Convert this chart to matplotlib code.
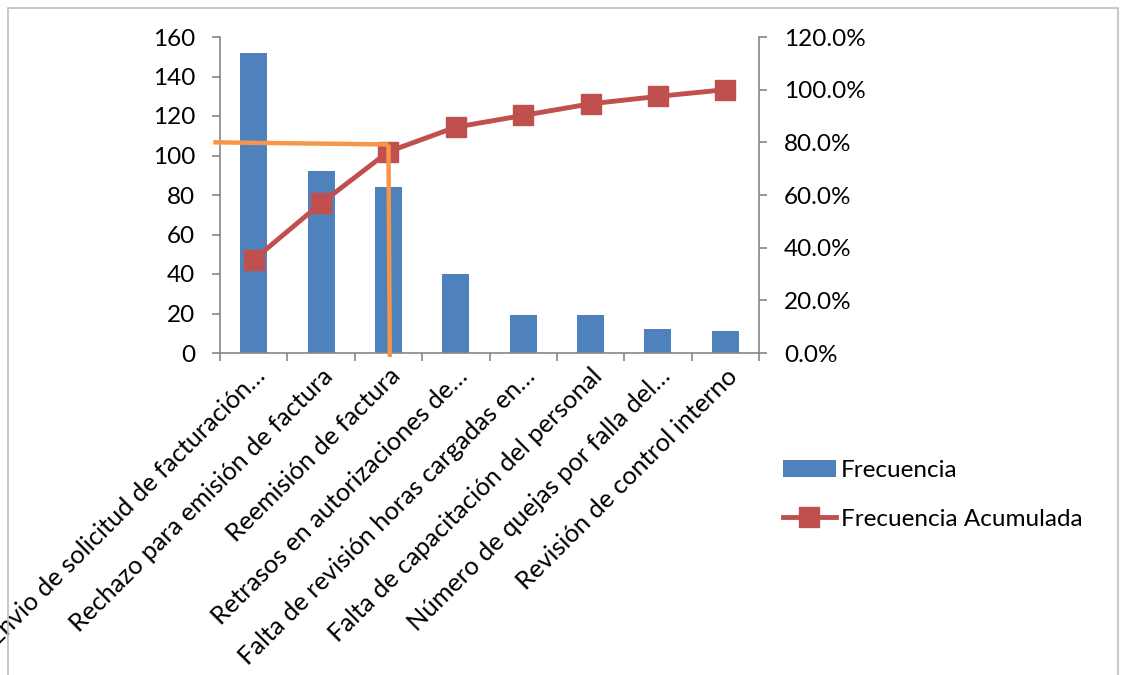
import matplotlib.pyplot as plt
import matplotlib.transforms as mtransforms
from matplotlib.patches import Rectangle
from matplotlib.ticker import FuncFormatter, FixedLocator

plt.rcParams['font.family'] = ['Lato', 'DejaVu Sans']

causas = [
    "Envio de solicitud de facturación…",
    "Rechazo para emisión de factura",
    "Reemisión de factura",
    "Retrasos en autorizaciones de…",
    "Falta de revisión horas cargadas en…",
    "Falta de capacitación del personal",
    "Número de quejas por falla del…",
    "Revisión de control interno",
]
frecuencia = [152, 92, 84, 40, 19, 19, 12, 11]
corte = 0.80  # umbral 80/20

total = sum(frecuencia)
acumulada = []
s = 0
for f in frecuencia:
    s += f
    acumulada.append(s / total)

azul = "#4F81BD"
rojo = "#C0504D"
naranja = "#F79646"
gris = "#868686"
fs = 17.5

fig = plt.figure(figsize=(11.26, 6.75), dpi=100)
fig.patches.append(Rectangle((8 / 1126, -0.1), 1110 / 1126, 1.1 - 8 / 675,
                             transform=fig.transFigure, fill=False,
                             edgecolor="#BFBFBF", linewidth=1.2))

ax = fig.add_axes([220 / 1126, 1 - 353 / 675, (759 - 220) / 1126, (353 - 37) / 675])
x = list(range(len(causas)))
barras = ax.bar(x, frecuencia, width=0.4, color=azul, label="Frecuencia", zorder=2)
ax.set_xlim(-0.5, len(causas) - 0.5)
ax.set_ylim(0, 160)
ax.set_yticks(range(0, 161, 20))

ax.set_xticks(x)
ax.set_xticklabels(causas, rotation=45, ha="right", va="top",
                   rotation_mode="anchor", fontsize=18.3)
# desplazar un poco las etiquetas rotadas hacia la izquierda
desplaz = mtransforms.ScaledTranslation(-12 / 100, -2 / 100, fig.dpi_scale_trans)
for lbl in ax.get_xticklabels():
    lbl.set_transform(lbl.get_transform() + desplaz)
ax.xaxis.set_minor_locator(FixedLocator([i - 0.5 for i in range(len(causas) + 1)]))
ax.tick_params(axis="x", which="major", length=0, pad=8)
ax.tick_params(axis="x", which="minor", length=6, color=gris, width=1.2)
ax.tick_params(axis="y", length=6, color=gris, width=1.2, labelsize=fs, pad=12)

for side in ["top", "right"]:
    ax.spines[side].set_visible(False)
for side in ["left", "bottom"]:
    ax.spines[side].set_color(gris)
    ax.spines[side].set_linewidth(1.2)

ax2 = ax.twinx()
linea, = ax2.plot(x, acumulada, color=rojo, linewidth=3.5, marker="s",
                  markersize=14, label="Frecuencia Acumulada", zorder=3)
ax2.set_ylim(0, 1.2)
ax2.set_yticks([i * 0.2 for i in range(7)])
ax2.yaxis.set_major_formatter(FuncFormatter(lambda v, p: f"{v * 100:.1f}%"))
ax2.tick_params(axis="y", length=6, color=gris, width=1.2, labelsize=fs, pad=12)
for side in ["top", "left", "bottom"]:
    ax2.spines[side].set_visible(False)
ax2.spines["right"].set_color(gris)
ax2.spines["right"].set_linewidth(1.2)

# líneas del 80 %
ax2.plot([-0.6, 2], [corte, corte * 0.99], color=naranja, linewidth=3.2,
         solid_capstyle="butt", clip_on=False, zorder=4)
ax2.plot([2, 2.02], [corte * 0.99, -0.015], color=naranja, linewidth=3.2,
         solid_capstyle="butt", clip_on=False, zorder=4)

fig.legend([barras, linea], ["Frecuencia", "Frecuencia Acumulada"],
           loc="upper left", bbox_to_anchor=(773 / 1126, 1 - 450 / 675),
           frameon=False, fontsize=fs, handlelength=2.2, handletextpad=0.2,
           labelspacing=1.15, borderaxespad=0)

fig.savefig("out.png", dpi=100)
